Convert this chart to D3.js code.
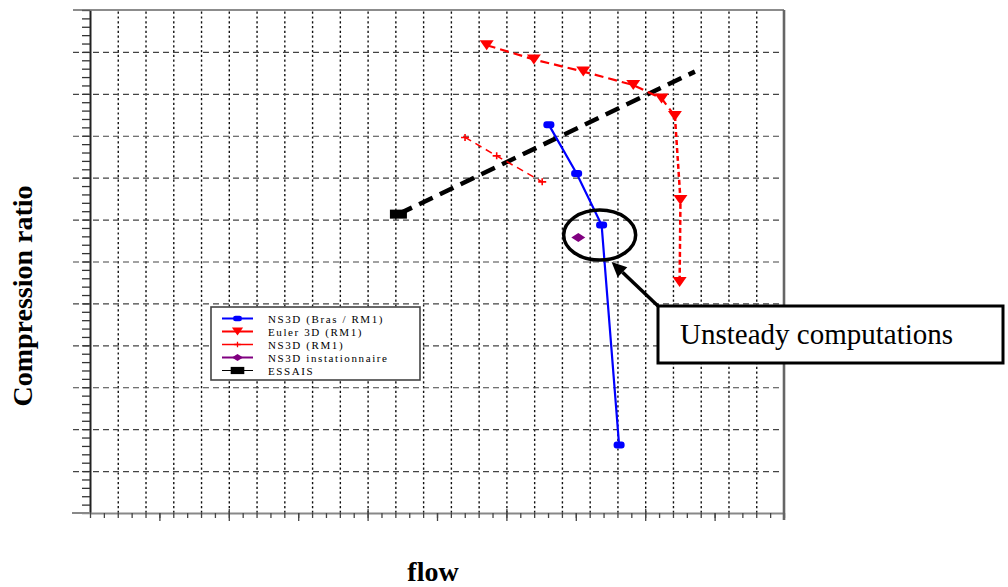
<!DOCTYPE html>
<html>
<head>
<meta charset="utf-8">
<script src="https://cdn.jsdelivr.net/npm/d3@7"></script>
<style>
  body { margin: 0; background: #fff; }
  svg { display: block; }
  .grid-x line { stroke: #111; stroke-width: 1.4; stroke-dasharray: 2.2,2.6; }
  .grid-y line { stroke: #444; stroke-width: 1.2; stroke-dasharray: 6,4; }
  .grid-x path, .grid-y path { display: none; }
  .minor path { stroke: #222; stroke-width: 2; }
  .minor line { stroke: #333; stroke-width: 1.3; }
  .bottom path { stroke: #888; stroke-width: 2; }
  .bottom line { stroke: #444; stroke-width: 1.3; }
</style>
</head>
<body>
<div id="chart"></div>
<script>
const FRAME_WIDTH = 1008;
const FRAME_HEIGHT = 587;
const MARGINS = {left: 90, right: 224, top: 10, bottom: 74};

const VIS_WIDTH = FRAME_WIDTH - MARGINS.left - MARGINS.right;
const VIS_HEIGHT = FRAME_HEIGHT - MARGINS.top - MARGINS.bottom;

// series names (legend order)
const SERIES_NAMES = ["NS3D (Bras / RM1)", "Euler 3D (RM1)", "NS3D (RM1)",
                      "NS3D instationnaire", "ESSAIS"];

// values (axis units = grid cells, no labels shown)
const NS3D_BRAS_FLOW = [16.53, 17.53, 18.43, 19.06];
const NS3D_BRAS_RATIO = [9.26, 8.10, 6.87, 1.62];

const EULER_FLOW = [14.29, 15.99, 17.77, 19.57, 20.59, 21.07, 21.27, 21.24];
const EULER_RATIO = [11.16, 10.82, 10.53, 10.21, 9.89, 9.47, 7.47, 5.51];

const NS3D_RM1_FLOW = [13.51, 14.65, 16.29];
const NS3D_RM1_RATIO = [8.96, 8.52, 7.90];

const UNSTEADY_FLOW = [17.59];
const UNSTEADY_RATIO = [6.57];

const ESSAIS_FLOW = [11.11, 21.79];
const ESSAIS_RATIO = [7.13, 10.53];

const X_MAX = 25;
const Y_MAX = 12;

const zip = (xs, ys) => xs.map((x, i) => ({x: x, y: ys[i]}));

const FRAME = d3.select("#chart")
                .append("svg")
                  .attr("width", FRAME_WIDTH)
                  .attr("height", FRAME_HEIGHT);

const X_SCALE = d3.scaleLinear().domain([0, X_MAX]).range([MARGINS.left, MARGINS.left + VIS_WIDTH]);
const Y_SCALE = d3.scaleLinear().domain([0, Y_MAX]).range([MARGINS.top + VIS_HEIGHT, MARGINS.top]);

// vertical dotted grid
FRAME.append("g")
      .attr("class", "grid-x")
      .attr("transform", "translate(0," + (MARGINS.top + VIS_HEIGHT) + ")")
      .call(d3.axisBottom(X_SCALE).tickValues(d3.range(1, X_MAX)).tickSize(-VIS_HEIGHT).tickFormat(""));

// horizontal dashed grid, runs a bit left of the axis
FRAME.append("g")
      .attr("class", "grid-y")
      .attr("transform", "translate(" + (MARGINS.left - 17) + ",0)")
      .call(d3.axisRight(Y_SCALE).tickValues(d3.range(1, Y_MAX)).tickSize(VIS_WIDTH + 17).tickFormat(""));

// left axis with minor ticks
FRAME.append("g")
      .attr("class", "minor")
      .attr("transform", "translate(" + MARGINS.left + ",0)")
      .call(d3.axisLeft(Y_SCALE).tickValues(d3.range(0, Y_MAX + 0.01, 0.2)).tickSizeInner(8).tickSizeOuter(0).tickFormat(""));

// bottom axis with minor ticks
FRAME.append("g")
      .attr("class", "bottom")
      .attr("transform", "translate(0," + (MARGINS.top + VIS_HEIGHT) + ")")
      .call(d3.axisBottom(X_SCALE).tickValues(d3.range(0, X_MAX + 0.01, 0.5)).tickSizeInner(5).tickSizeOuter(0).tickFormat(""));

FRAME.append("g")
      .attr("class", "bottom")
      .attr("transform", "translate(0," + (MARGINS.top + VIS_HEIGHT) + ")")
      .call(d3.axisBottom(X_SCALE).tickValues([2.5, 7.5, 12.5, 17.5, 22.5, 5, 10, 15, 20]).tickSizeInner(8).tickSizeOuter(0).tickFormat(""))
      .select("path").remove();

FRAME.append("g")
      .attr("class", "bottom")
      .attr("transform", "translate(0," + (MARGINS.top + VIS_HEIGHT) + ")")
      .call(d3.axisTop(X_SCALE).tickValues([5, 10, 15, 20]).tickSizeInner(4).tickSizeOuter(0).tickFormat(""))
      .select("path").remove();

// frame top and right
FRAME.append("line")
      .attr("x1", MARGINS.left - 17).attr("x2", X_SCALE(X_MAX))
      .attr("y1", Y_SCALE(Y_MAX)).attr("y2", Y_SCALE(Y_MAX))
      .attr("stroke", "#666").attr("stroke-width", 1.6);
FRAME.append("line")
      .attr("x1", X_SCALE(X_MAX)).attr("x2", X_SCALE(X_MAX))
      .attr("y1", Y_SCALE(Y_MAX)).attr("y2", Y_SCALE(0) + 7)
      .attr("stroke", "#666").attr("stroke-width", 2.6);
FRAME.append("line")
      .attr("x1", MARGINS.left - 18).attr("x2", MARGINS.left)
      .attr("y1", Y_SCALE(0)).attr("y2", Y_SCALE(0))
      .attr("stroke", "#888").attr("stroke-width", 2);

// marker shapes
const MARKERS = {
  oval: (g, c) => g.append("rect").attr("x", -5.5).attr("y", -3.5).attr("width", 11).attr("height", 7)
                    .attr("rx", 3).attr("fill", c),
  tri: (g, c) => g.append("path").attr("d", "M-7,-5L7,-5L0,5Z").attr("fill", c),
  plus: (g, c) => g.append("path").attr("d", "M-4,0L4,0M0,-3.5L0,3.5").attr("stroke", c).attr("stroke-width", 1.6),
  diamond: (g, c) => g.append("path").attr("d", "M-7,0L0,-4.5L7,0L0,4.5Z").attr("fill", c),
  square: (g, c) => g.append("rect").attr("x", -8.5).attr("y", -4.5).attr("width", 17).attr("height", 9).attr("fill", c)
};

const LINE = d3.line().x(d => X_SCALE(d.x)).y(d => Y_SCALE(d.y));

function drawSeries(points, opts) {
  if (points.length > 1) {
    FRAME.append("path")
          .datum(points)
          .attr("d", LINE)
          .attr("fill", "none")
          .attr("stroke", opts.color)
          .attr("stroke-width", opts.width)
          .attr("stroke-dasharray", opts.dash || null);
  }
  points.forEach((p, i) => {
    if (opts.only !== undefined && opts.only.indexOf(i) < 0) return;
    const g = FRAME.append("g").attr("transform", "translate(" + X_SCALE(p.x) + "," + Y_SCALE(p.y) + ")");
    MARKERS[opts.marker](g, opts.color);
  });
}

const ESSAIS = zip(ESSAIS_FLOW, ESSAIS_RATIO);
const NS3D_RM1 = zip(NS3D_RM1_FLOW, NS3D_RM1_RATIO);
const EULER = zip(EULER_FLOW, EULER_RATIO);
const NS3D_BRAS = zip(NS3D_BRAS_FLOW, NS3D_BRAS_RATIO);
const UNSTEADY = zip(UNSTEADY_FLOW, UNSTEADY_RATIO);

drawSeries(ESSAIS, {color: "#000", width: 4.5, dash: "15,8", marker: "square", only: [0]});
drawSeries(NS3D_RM1, {color: "#ff0000", width: 1.5, dash: "7,5", marker: "plus"});
// euler: upper arc and the finer dashed vertical drop
drawSeries(EULER.slice(0, 6), {color: "#ff0000", width: 2.2, dash: "9,5", marker: "tri"});
drawSeries(EULER.slice(5), {color: "#ff0000", width: 2.5, dash: "5,3", marker: "tri", only: [1, 2]});
drawSeries(NS3D_BRAS, {color: "#0000ff", width: 2.2, marker: "oval"});
drawSeries(UNSTEADY, {color: "#800080", width: 2, marker: "diamond"});

// legend
const LEGEND_STYLE = [
  {color: "#0000ff", marker: "oval", width: 2},
  {color: "#ff0000", marker: "tri", width: 2},
  {color: "#ff0000", marker: "plus", width: 1.5},
  {color: "#800080", marker: "diamond", width: 2},
  {color: "#000", marker: "square", width: 1}
];

const LEGEND = FRAME.append("g").attr("transform", "translate(211,307)");
LEGEND.append("rect")
      .attr("width", 209).attr("height", 73)
      .attr("fill", "#fff").attr("stroke", "#444").attr("stroke-width", 1.6);

SERIES_NAMES.forEach((name, i) => {
  const y = 11.5 + i * 13;
  const s = LEGEND_STYLE[i];
  LEGEND.append("line")
        .attr("x1", 11).attr("x2", 42).attr("y1", y).attr("y2", y)
        .attr("stroke", s.color).attr("stroke-width", s.width);
  const g = LEGEND.append("g").attr("transform", "translate(26.5," + y + ") scale(0.8)");
  MARKERS[s.marker](g, s.color);
  LEGEND.append("text")
        .attr("x", 57).attr("y", y + 4)
        .attr("font-family", "'Liberation Serif', 'Times New Roman', serif")
        .attr("font-size", 11).attr("letter-spacing", 1.6)
        .text(name);
});

// annotation: circle around the unsteady point, arrow and text box
FRAME.append("ellipse")
      .attr("cx", X_SCALE(18.36)).attr("cy", Y_SCALE(6.63))
      .attr("rx", 36).attr("ry", 25)
      .attr("fill", "none").attr("stroke", "#000").attr("stroke-width", 3.5);

const TIP = [X_SCALE(18.79), Y_SCALE(5.99)];
const BOX = {x: 658, y: 306, w: 345, h: 57};
const ang = Math.atan2(BOX.y - TIP[1], BOX.x - TIP[0]);
const back = [TIP[0] + 15 * Math.cos(ang), TIP[1] + 15 * Math.sin(ang)];
FRAME.append("line")
      .attr("x1", BOX.x).attr("y1", BOX.y).attr("x2", back[0]).attr("y2", back[1])
      .attr("stroke", "#000").attr("stroke-width", 3.5);
FRAME.append("path")
      .attr("d", "M" + TIP[0] + "," + TIP[1] +
                 "L" + (back[0] + 7 * Math.sin(ang)) + "," + (back[1] - 7 * Math.cos(ang)) +
                 "L" + (back[0] - 7 * Math.sin(ang)) + "," + (back[1] + 7 * Math.cos(ang)) + "Z")
      .attr("fill", "#000");

FRAME.append("rect")
      .attr("x", BOX.x).attr("y", BOX.y).attr("width", BOX.w).attr("height", BOX.h)
      .attr("fill", "#fff").attr("stroke", "#000").attr("stroke-width", 3);
FRAME.append("text")
      .attr("x", 680).attr("y", 344)
      .attr("font-family", "'Liberation Serif', 'Times New Roman', serif")
      .attr("font-size", 29)
      .text("Unsteady computations");

// axis titles
FRAME.append("text")
      .attr("x", 433).attr("y", 581)
      .attr("text-anchor", "middle")
      .attr("font-family", "'Liberation Serif', 'Times New Roman', serif")
      .attr("font-weight", "bold").attr("font-size", 28)
      .text("flow");

FRAME.append("text")
      .attr("transform", "translate(32,296) rotate(-90)")
      .attr("text-anchor", "middle")
      .attr("font-family", "'Liberation Serif', 'Times New Roman', serif")
      .attr("font-weight", "bold").attr("font-size", 28)
      .text("Compression ratio");
</script>
</body>
</html>
